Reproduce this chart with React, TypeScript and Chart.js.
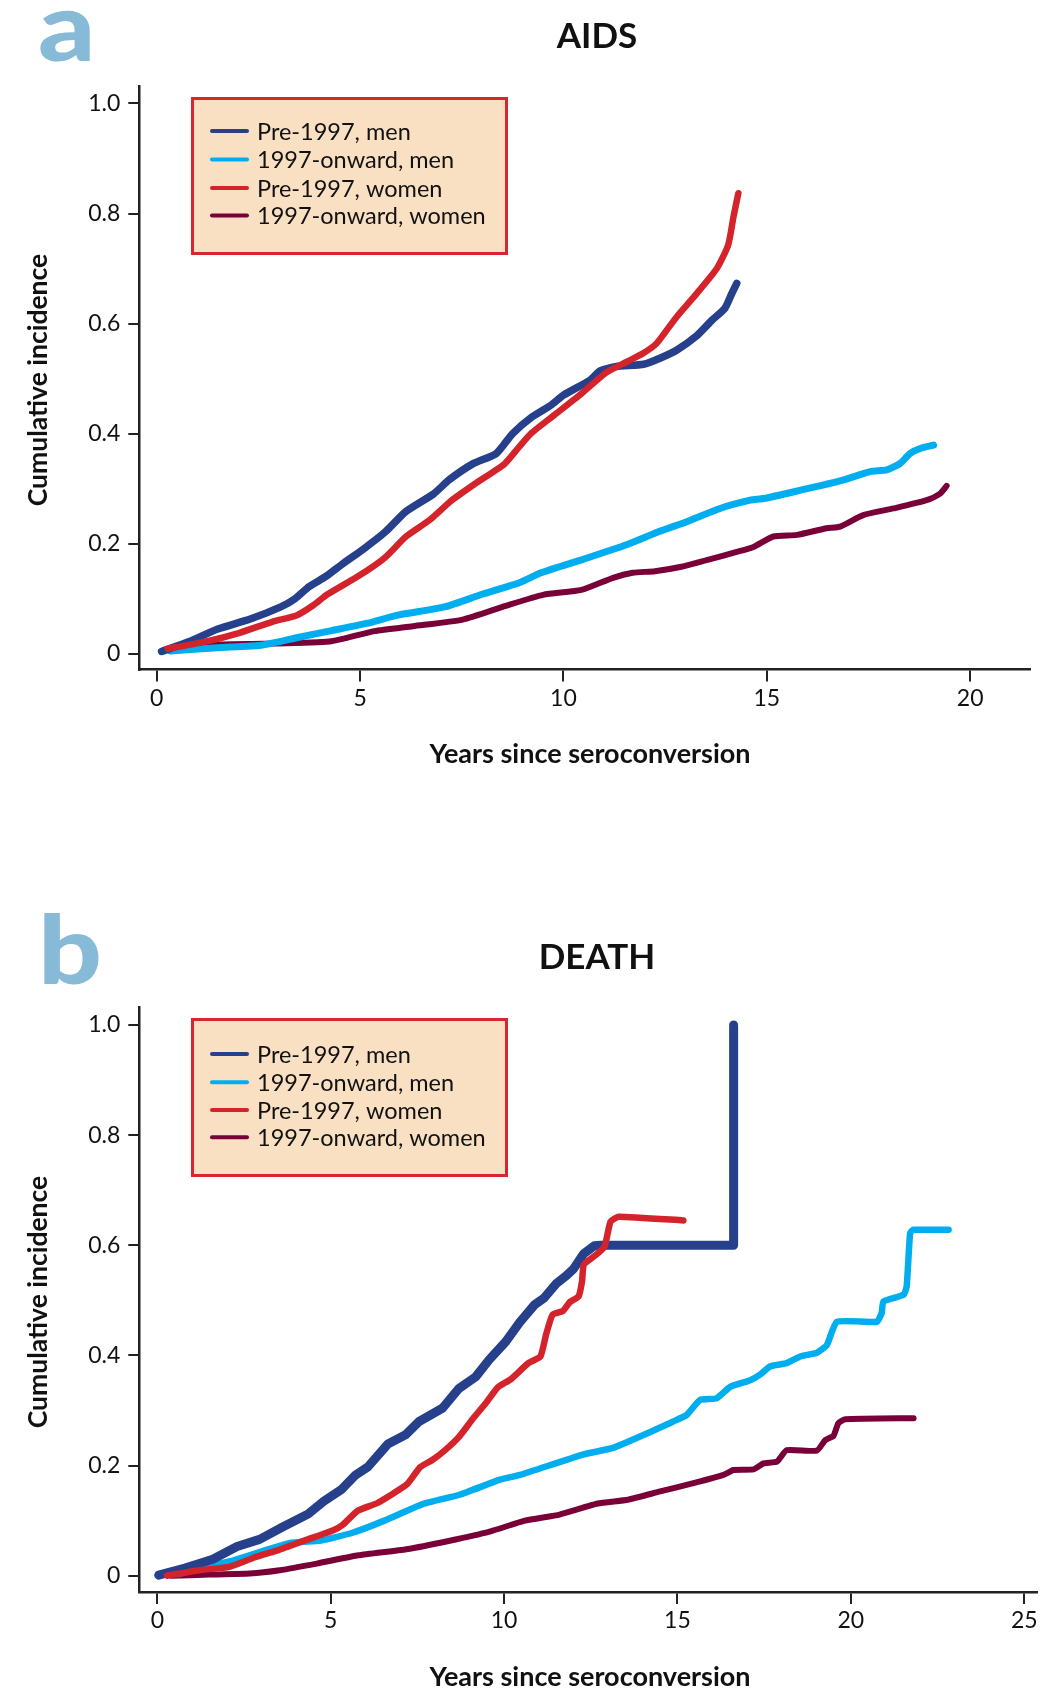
import React, { useEffect, useRef } from 'react';
import { Chart, registerables } from 'chart.js';

Chart.register(...registerables);

type Pt = [number, number];

// ---------- Data ----------
const seriesLabels = ['Pre-1997, men', '1997-onward, men', 'Pre-1997, women', '1997-onward, women'];
const seriesColors = ['#27408b', '#00aeef', '#d4232b', '#7a0038'];

const yTickValues = [0, 0.2, 0.4, 0.6, 0.8, 1.0];
const aidsXTicks = [0, 5, 10, 15, 20];
const deathXTicks = [0, 5, 10, 15, 20, 25];

// Panel a: AIDS
const aidsPreMen: Pt[] = [
  [0.12, 0.004], [0.8, 0.022], [1.5, 0.045], [2.3, 0.063], [3.05, 0.085], [3.4, 0.1], [3.75, 0.122],
  [4.15, 0.14], [4.6, 0.165], [5.08, 0.19], [5.63, 0.222], [6.12, 0.258], [6.8, 0.29], [7.19, 0.316],
  [7.77, 0.345], [8.35, 0.364], [8.75, 0.4], [9.24, 0.431], [9.7, 0.452], [10.0, 0.47], [10.65, 0.497],
  [10.9, 0.514], [11.3, 0.522], [11.97, 0.526], [12.4, 0.538], [12.79, 0.552], [13.28, 0.578],
  [13.65, 0.606], [13.97, 0.628], [14.14, 0.655], [14.26, 0.673],
];
const aidsOnMen: Pt[] = [
  [0.34, 0.005], [1.5, 0.011], [2.61, 0.016], [3.5, 0.03], [4.3, 0.042], [5.16, 0.055], [5.93, 0.07],
  [7.08, 0.085], [8.0, 0.108], [8.95, 0.13], [9.45, 0.147], [10.5, 0.172], [11.55, 0.198], [12.35, 0.222],
  [13.03, 0.24], [13.85, 0.264], [14.59, 0.279], [14.92, 0.282], [15.82, 0.297], [16.8, 0.314],
  [17.54, 0.331], [17.95, 0.334], [18.28, 0.346], [18.52, 0.364], [18.77, 0.373], [19.1, 0.379],
];
const aidsPreWomen: Pt[] = [
  [0.27, 0.009], [1.2, 0.022], [2.04, 0.038], [2.84, 0.058], [3.45, 0.07], [3.85, 0.088], [4.2, 0.108],
  [4.98, 0.142], [5.6, 0.174], [6.13, 0.213], [6.71, 0.243], [7.24, 0.278], [7.85, 0.31], [8.55, 0.345],
  [8.9, 0.375], [9.2, 0.4], [9.78, 0.434], [10.4, 0.47], [11.05, 0.511], [11.6, 0.532], [11.96, 0.546],
  [12.29, 0.564], [12.79, 0.613], [13.28, 0.655], [13.77, 0.7], [14.05, 0.743], [14.18, 0.794], [14.3, 0.837],
];
const aidsOnWomen: Pt[] = [
  [0.4, 0.005], [1.3, 0.016], [2.6, 0.018], [4.25, 0.022], [5.35, 0.041], [6.3, 0.05], [7.52, 0.062],
  [8.58, 0.087], [9.5, 0.107], [10.44, 0.116], [11.22, 0.138], [11.7, 0.147], [12.25, 0.15], [12.9, 0.158],
  [13.52, 0.17], [14.26, 0.185], [14.67, 0.194], [15.16, 0.213], [15.74, 0.216], [16.47, 0.228],
  [16.8, 0.231], [17.37, 0.252], [18.11, 0.264], [18.93, 0.279], [19.26, 0.291], [19.42, 0.305],
];

// Panel b: DEATH
const deathPreMen: Pt[] = [
  [0.04, 0.001], [0.8, 0.014], [1.6, 0.03], [2.3, 0.053], [2.95, 0.066], [3.6, 0.088], [4.35, 0.112],
  [4.8, 0.135], [5.3, 0.156], [5.72, 0.183], [6.08, 0.198], [6.65, 0.239], [7.16, 0.256], [7.55, 0.28],
  [8.22, 0.304], [8.7, 0.34], [9.18, 0.361], [9.57, 0.392], [10.05, 0.425], [10.45, 0.46], [10.88, 0.492],
  [11.15, 0.504], [11.5, 0.53], [11.8, 0.545], [12.0, 0.557], [12.3, 0.585], [12.6, 0.599], [12.8, 0.6],
  [16.62, 0.6], [16.62, 1.0],
];
const deathOnMen: Pt[] = [
  [0.6, 0.003], [1.59, 0.019], [2.2, 0.028], [3.8, 0.059], [4.72, 0.064], [5.63, 0.078], [6.55, 0.1],
  [7.65, 0.13], [8.72, 0.147], [9.86, 0.174], [10.46, 0.183], [12.27, 0.22], [13.14, 0.232], [14.25, 0.262],
  [14.88, 0.28], [15.27, 0.292], [15.65, 0.319], [16.13, 0.322], [16.52, 0.343], [17.1, 0.355],
  [17.38, 0.365], [17.67, 0.38], [18.15, 0.386], [18.54, 0.398], [19.02, 0.405], [19.31, 0.419],
  [19.6, 0.461], [20.75, 0.461], [20.89, 0.477], [20.94, 0.498], [21.52, 0.51], [21.61, 0.525],
  [21.71, 0.622], [21.8, 0.628], [22.82, 0.628],
];
const deathPreWomen: Pt[] = [
  [0.28, 0.0], [1.2, 0.01], [2.08, 0.016], [2.8, 0.033], [3.51, 0.047], [4.3, 0.065], [5.06, 0.082],
  [5.34, 0.092], [5.78, 0.118], [6.35, 0.132], [7.2, 0.166], [7.58, 0.197], [7.93, 0.21], [8.3, 0.228],
  [8.7, 0.252], [9.1, 0.285], [9.47, 0.313], [9.82, 0.342], [10.2, 0.357], [10.7, 0.386], [11.05, 0.398],
  [11.22, 0.44], [11.4, 0.474], [11.7, 0.481], [11.9, 0.497], [12.15, 0.507], [12.25, 0.535], [12.3, 0.565],
  [12.66, 0.583], [12.9, 0.598], [13.07, 0.643], [13.3, 0.652], [15.17, 0.645],
];
const deathOnWomen: Pt[] = [
  [0.4, 0.0], [1.5, 0.002], [2.66, 0.004], [3.53, 0.01], [4.6, 0.022], [5.8, 0.037], [7.18, 0.048],
  [8.4, 0.063], [9.58, 0.08], [10.6, 0.1], [11.6, 0.111], [12.7, 0.131], [13.57, 0.138], [14.5, 0.153],
  [15.46, 0.168], [16.33, 0.183], [16.61, 0.192], [17.19, 0.193], [17.48, 0.204], [17.87, 0.207],
  [18.15, 0.228], [19.02, 0.227], [19.26, 0.246], [19.5, 0.254], [19.64, 0.277], [19.84, 0.284], [21.81, 0.286],
];

// ---------- Layout ----------
const W = 1044;
const H = 845;
const FONT = 'Lato, "Open Sans", sans-serif';

interface PanelSpec {
  letter: string;
  title: string;
  data: Pt[][]; // in legend order
  widths: number[];
  tensions: number[];
  xMin: number;
  xMax: number;
  xTicks: number[];
  yMin: number;
  yMax: number;
  pad: { top: number; right: number; bottom: number };
  letterBaseline: number;
  titleY: number;
  xTitleY: number;
  yTitleY: number;
  legendRect: [number, number, number, number];
  legendRows: number[];
}

const panels: PanelSpec[] = [
  {
    letter: 'a',
    title: 'AIDS',
    data: [aidsPreMen, aidsOnMen, aidsPreWomen, aidsOnWomen],
    widths: [7.5, 7, 6.5, 6],
    tensions: [0.2, 0.2, 0.2, 0.2],
    xMin: -0.428,
    xMax: 21.47,
    xTicks: aidsXTicks,
    yMin: -0.0287,
    yMax: 1.0318,
    pad: { top: 86, right: 14, bottom: 115.5 },
    letterBaseline: 61,
    titleY: 37,
    xTitleY: 754,
    yTitleY: 380,
    legendRect: [191, 97, 317, 158],
    legendRows: [131, 159.5, 188, 215.5],
  },
  {
    letter: 'b',
    title: 'DEATH',
    data: [deathPreMen, deathOnMen, deathPreWomen, deathOnWomen],
    widths: [9, 6.5, 6.5, 6],
    tensions: [0, 0.15, 0.15, 0.15],
    xMin: -0.519,
    xMax: 25.36,
    xTicks: deathXTicks,
    yMin: -0.0296,
    yMax: 1.0321,
    pad: { top: 162.3, right: 7.3, bottom: 38 },
    letterBaseline: 139,
    titleY: 113,
    xTitleY: 832.5,
    yTitleY: 457,
    legendRect: [191, 173, 317, 159],
    legendRows: [209, 237.3, 265, 292.3],
  },
];

const drawOrder = [1, 2, 0, 3]; // red on top, then blue, cyan, maroon

function makeOverlay(p: PanelSpec) {
  return {
    id: 'overlay_' + p.letter,
    afterDraw(chart: any) {
      const ctx: CanvasRenderingContext2D = chart.ctx;
      ctx.save();
      // panel letter
      ctx.save();
      ctx.fillStyle = '#86bad7';
      ctx.font = `900 95px ${FONT}`;
      ctx.textAlign = 'left';
      ctx.textBaseline = 'alphabetic';
      ctx.translate(38, p.letterBaseline);
      ctx.scale(1.18, 1);
      ctx.fillText(p.letter, 0, 0);
      ctx.restore();
      // title
      ctx.fillStyle = '#111';
      ctx.font = `bold 35px ${FONT}`;
      ctx.textAlign = 'center';
      ctx.textBaseline = 'middle';
      ctx.fillText(p.title, 597, p.titleY);
      // x axis title
      ctx.font = `bold 27px ${FONT}`;
      ctx.fillText('Years since seroconversion', 590, p.xTitleY);
      // y axis title
      ctx.save();
      ctx.translate(38, p.yTitleY);
      ctx.rotate(-Math.PI / 2);
      ctx.font = `bold 26.5px ${FONT}`;
      ctx.fillText('Cumulative incidence', 0, 0);
      ctx.restore();
      // legend
      const [lx, ly, lw, lh] = p.legendRect;
      ctx.fillStyle = '#f9e0c3';
      ctx.fillRect(lx, ly, lw, lh);
      ctx.strokeStyle = '#d7262e';
      ctx.lineWidth = 3;
      ctx.strokeRect(lx + 1.5, ly + 1.5, lw - 3, lh - 3);
      ctx.font = `23.5px ${FONT}`;
      ctx.textAlign = 'left';
      ctx.textBaseline = 'alphabetic';
      seriesLabels.forEach((label, i) => {
        const y = p.legendRows[i];
        ctx.strokeStyle = seriesColors[i];
        ctx.lineWidth = 4;
        ctx.lineCap = 'round';
        ctx.beginPath();
        ctx.moveTo(212, y);
        ctx.lineTo(247, y);
        ctx.stroke();
        ctx.fillStyle = '#111';
        ctx.fillText(label, 257, y + 8.5);
      });
      ctx.restore();
    },
  };
}

function Panel({ spec, top }: { spec: PanelSpec; top: number }) {
  const ref = useRef<HTMLCanvasElement | null>(null);
  useEffect(() => {
    if (!ref.current) return;
    const datasets = spec.data.map((pts, i) => ({
      label: seriesLabels[i],
      data: pts.map(([x, y]) => ({ x, y })),
      borderColor: seriesColors[i],
      backgroundColor: seriesColors[i],
      borderWidth: spec.widths[i],
      pointRadius: 0,
      tension: spec.tensions[i],
      fill: false,
      borderJoinStyle: 'round' as const,
      borderCapStyle: 'round' as const,
      order: drawOrder[i],
    }));
    const tickFont = { family: FONT, size: 23 };
    const chart = new Chart(ref.current, {
      type: 'line',
      data: { datasets },
      options: {
        animation: false,
        responsive: false,
        maintainAspectRatio: false,
        layout: { padding: { left: 0, top: spec.pad.top, right: spec.pad.right, bottom: spec.pad.bottom } },
        plugins: { legend: { display: false }, tooltip: { enabled: false }, title: { display: false } },
        scales: {
          x: {
            type: 'linear',
            min: spec.xMin,
            max: spec.xMax,
            afterBuildTicks: (s: any) => {
              s.ticks = spec.xTicks.map((v) => ({ value: v }));
            },
            afterFit: (s: any) => {
              s.height = 60;
            },
            ticks: {
              font: tickFont,
              color: '#111',
              padding: 3,
              maxRotation: 0,
              autoSkip: false,
              callback: (v: any) => String(v),
            },
            grid: { drawOnChartArea: false, drawTicks: true, tickLength: 12, color: '#222', lineWidth: 2 },
            border: { display: true, color: '#222', width: 2.5 },
          },
          y: {
            type: 'linear',
            min: spec.yMin,
            max: spec.yMax,
            afterBuildTicks: (s: any) => {
              s.ticks = yTickValues.map((v) => ({ value: v }));
            },
            afterFit: (s: any) => {
              s.width = 139.3;
            },
            ticks: {
              font: tickFont,
              color: '#111',
              padding: 8,
              autoSkip: false,
              callback: (v: any) => (Number(v) === 0 ? '0' : Number(v).toFixed(1)),
            },
            grid: { drawOnChartArea: false, drawTicks: true, tickLength: 11, color: '#222', lineWidth: 2 },
            border: { display: true, color: '#222', width: 2.5 },
          },
        },
      },
      plugins: [makeOverlay(spec)],
    });
    return () => chart.destroy();
  }, [spec]);
  return (
    <div style={{ position: 'absolute', left: 0, top, width: W, height: H }}>
      <canvas ref={ref} width={W} height={H} style={{ width: W, height: H, display: 'block' }} />
    </div>
  );
}

export default function App() {
  return (
    <div style={{ position: 'absolute', left: 0, top: 0, width: W, height: 1690, background: '#fff', overflow: 'hidden' }}>
      <Panel spec={panels[0]} top={0} />
      <Panel spec={panels[1]} top={H} />
    </div>
  );
}
